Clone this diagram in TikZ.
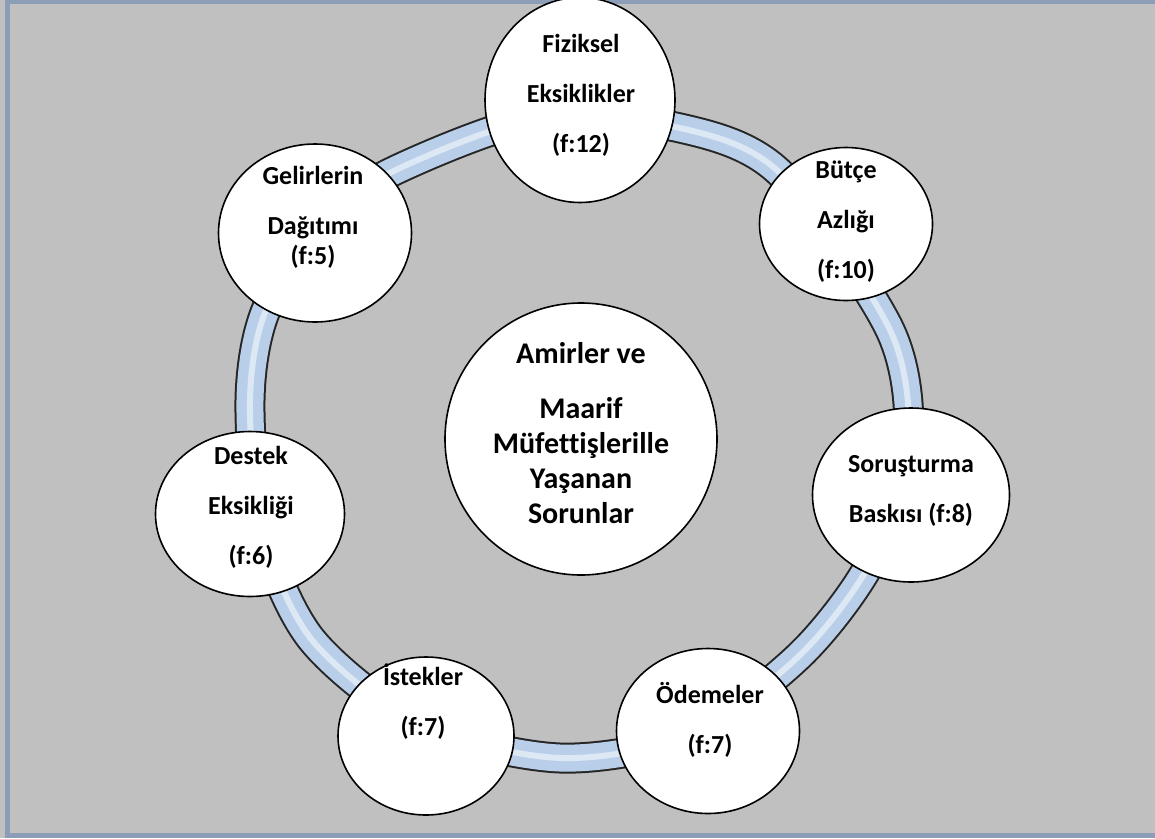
\documentclass[tikz,border=0pt]{standalone}
\usepackage{fontspec}
\setmainfont{Carlito}[Ligatures=NoCommon]
\usepackage{tikz}
\usetikzlibrary{shapes.geometric}

\definecolor{bggray}{HTML}{C0C0C0}
\definecolor{frameblue}{HTML}{8C9DB7}
\definecolor{tubeblue}{HTML}{B9CFE9}
\definecolor{tubelight}{HTML}{DDE8F5}

\tikzset{
  bubble/.style={ellipse, draw=black, line width=1.6pt, fill=white, inner sep=0pt},
  bubbletext/.style={font=\fontsize{26}{50}\selectfont\bfseries, align=center, inner sep=0pt},
  hubtext/.style={font=\fontsize{30}{35}\selectfont\bfseries, align=center, inner sep=0pt},
  tubeedge/.style={draw=black!85, line width=31pt},
  tubefill/.style={draw=tubeblue, line width=27pt},
  tubeshine/.style={draw=tubelight, line width=6pt}
}

\begin{document}
\begin{tikzpicture}[x=1pt,y=-1pt]
                    \useasboundingbox (0,0) rectangle (1155,838);
                    \clip (0,0) rectangle (1155,838);
                    \fill[bggray] (0,0) rectangle (1155,838);
                    \draw[frameblue, line width=5pt] (7,1) rectangle (1170,835.5);

                    % the ring behind the bubbles
                    \def\ringpath{plot[smooth cycle] coordinates {(680,128) (780,173) (890,330) (908,445) (872,560) (800,655) (690,735) (560,758) (420,725) (312,640) (262,530) (250,400) (266,310) (325,218) (400,168) (540,118)}}
                    \draw[tubeedge] \ringpath;
                    \draw[tubefill] \ringpath;
                    \draw[tubeshine] \ringpath;

                    \node[bubble, minimum width=272pt, minimum height=272pt] (hub) at (581,439) {};
                    \node[bubble, minimum width=190pt, minimum height=205pt] (fiz) at (580,100) {};
                    \node[bubble, minimum width=173pt, minimum height=153pt] (butce) at (846,224) {};
                    \node[bubble, minimum width=197pt, minimum height=174pt] (sor) at (911,495) {};
                    \node[bubble, minimum width=183pt, minimum height=165pt] (ode) at (708,731) {};
                    \node[bubble, minimum width=176pt, minimum height=158pt] (ist) at (426,736) {};
                    \node[bubble, minimum width=189pt, minimum height=165pt] (des) at (250,514) {};
                    \node[bubble, minimum width=193pt, minimum height=178pt] (gel) at (315,233) {};

                    \node[hubtext] (hubt) at (581,433) {Amirler ve\\[20pt]Maarif\\Müfettişlerille\\Yaşanan\\Sorunlar};
                    \node[bubbletext] (fizt) at (581,95) {Fiziksel\\Eksiklikler\\(f:12)};
                    \node[bubbletext] (butcet) at (846,222) {Bütçe\\Azlığı\\(f:10)};
                    \node[bubbletext] (sort) at (911,491) {Soruşturma\\Baskısı (f:8)};
                    \node[bubbletext] (odet) at (710,720) {Ödemeler\\(f:7)};
                    \node[bubbletext] (istt) at (423,702) {İstekler\\(f:7)};
                    \node[bubbletext] (dest) at (251,507) {Destek\\Eksikliği\\(f:6)};
                    \node[bubbletext] (gelt) at (313,217) {Gelirlerin\\Dağıtımı\\[-20pt](f:5)};
\end{tikzpicture}
\end{document}
